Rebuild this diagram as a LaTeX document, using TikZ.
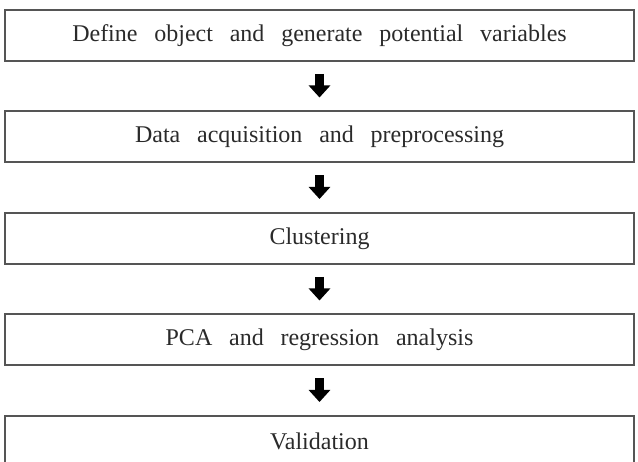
\documentclass[tikz,border=0pt]{standalone}
\usepackage{fontspec}
\setmainfont{Liberation Serif}[WordSpace=2.8]
\usetikzlibrary{arrows.meta}
\definecolor{boxline}{HTML}{555555}
\definecolor{txt}{HTML}{2A2A2A}
\tikzset{
  stepbox/.style={draw=boxline, line width=1.8pt, minimum width=629pt, minimum height=51pt,
    inner sep=0pt, text=txt, font=\fontsize{24}{28}\selectfont, anchor=north},
  flowarrow/.style={line width=9pt, black, -{Triangle[width=21pt,length=12pt]},
    shorten <=12pt, shorten >=13pt}
}
\begin{document}
\begin{tikzpicture}[x=1pt,y=-1pt]
\useasboundingbox (0,0) rectangle (638,462);
\clip (0,0) rectangle (638,462);
\node[stepbox] (b1) at (319.5,9) {Define object and generate potential variables};
\node[stepbox] (b2) at (319.5,110.5) {Data acquisition and preprocessing};
\node[stepbox] (b3) at (319.5,212) {Clustering};
\node[stepbox] (b4) at (319.5,313.5) {PCA and regression analysis};
\node[stepbox] (b5) at (319.5,415) {Validation};
\draw[flowarrow] (b1.south) -- (b2.north);
\draw[flowarrow] (b2.south) -- (b3.north);
\draw[flowarrow] (b3.south) -- (b4.north);
\draw[flowarrow] (b4.south) -- (b5.north);
\end{tikzpicture}
\end{document}
